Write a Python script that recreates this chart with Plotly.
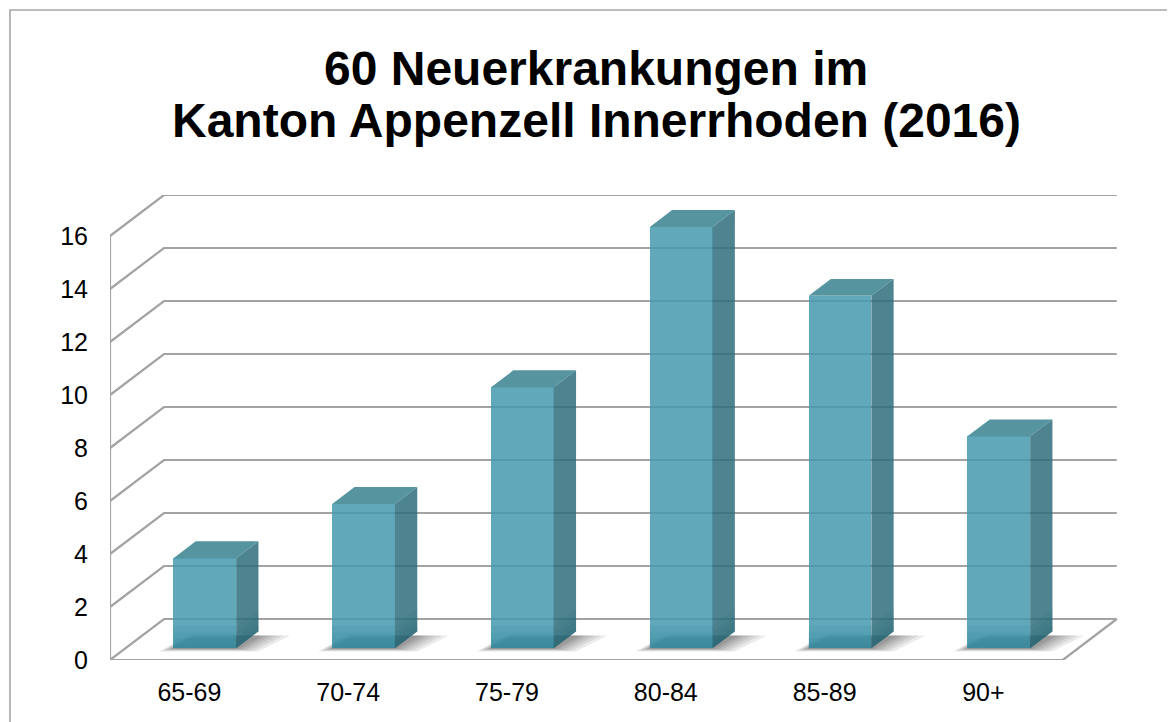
import plotly.graph_objects as go

# ---- data ----
categories = ["65-69", "70-74", "75-79", "80-84", "85-89", "90+"]
values = [3.4, 5.45, 9.85, 15.9, 13.3, 8.0]
y_ticks = [0, 2, 4, 6, 8, 10, 12, 14, 16]
title_line1 = "60 Neuerkrankungen im"
title_line2 = "Kanton Appenzell Innerrhoden (2016)"

# ---- 3D-look geometry (style constants) ----
DX, DY = 0.34, 1.547          # floor depth vector (x units, value units)
F0 = 0.285                    # depth fraction of bar front face
FD = 0.413                    # depth fraction of bar thickness
BW = 0.395                    # bar width in category units
X_MIN, X_MAX = -0.5, 5.5
Y_TOP = 16

FRONT = "rgba(68,153,174,0.85)"
SIDE = "rgba(47,111,125,0.85)"
TOP = "rgba(56,129,143,0.85)"
GRID = "#a3a3a3"

fig = go.Figure()
shapes = []

def line_shape(pts, color=GRID, width=2.2):
    path = "M " + " L ".join(f"{x},{y}" for x, y in pts)
    return dict(type="path", xref="x", yref="y", path=path,
                line=dict(color=color, width=width), layer="below")

# gridlines (left wall diagonal + back wall)
for v in y_ticks:
    shapes.append(line_shape([(X_MIN, v), (X_MIN + DX, v + DY), (X_MAX + DX, v + DY)]))
# floor front + right edges
shapes.append(line_shape([(X_MIN, 0), (X_MAX, 0), (X_MAX + DX, DY)]))
# left wall front edge
shapes.append(line_shape([(X_MIN, 0), (X_MIN, Y_TOP)]))

bx0 = F0 * DX
by0 = F0 * DY
bdx = FD * DX
bdy = FD * DY

# soft floor shadows (layered to imitate blur)
for i, v in enumerate(values):
    xl = i + bx0 - BW / 2
    xr = i + bx0 + BW / 2
    for k in [1.0, 0.8, 0.6, 0.42, 0.26, 0.12]:
        pts = [(xl - 0.09 * k, by0 - 0.12 * k), (xr + 0.14 * k, by0 - 0.12 * k),
               (xr + bdx + 0.2 * k, by0 + bdy * 0.75), (xl + bdx - 0.05 * k, by0 + bdy * 0.75)]
        path = "M " + " L ".join(f"{x},{y}" for x, y in pts) + " Z"
        shapes.append(dict(type="path", xref="x", yref="y", path=path,
                           fillcolor="rgba(0,0,0,0.08)", line=dict(width=0), layer="below"))

# front faces as bars
fig.add_trace(go.Bar(
    x=[i + bx0 for i in range(len(values))], y=values, base=by0, width=BW,
    marker=dict(color=FRONT, line=dict(width=0)), showlegend=False, hoverinfo="skip"))

for i, v in enumerate(values):
    xl = i + bx0 - BW / 2
    xr = i + bx0 + BW / 2
    yt = by0 + v
    # side face
    fig.add_trace(go.Scatter(
        x=[xr, xr + bdx, xr + bdx, xr, xr], y=[by0, by0 + bdy, yt + bdy, yt, by0],
        fill="toself", fillcolor=SIDE, mode="lines", line=dict(width=0),
        showlegend=False, hoverinfo="skip"))
    # top face
    fig.add_trace(go.Scatter(
        x=[xl, xl + bdx, xr + bdx, xr, xl], y=[yt, yt + bdy, yt + bdy, yt, yt],
        fill="toself", fillcolor=TOP, mode="lines", line=dict(width=0),
        showlegend=False, hoverinfo="skip"))
    # soft darker base band on front and side faces
    for h in [0.85, 0.6, 0.38, 0.18]:
        fig.add_trace(go.Scatter(
            x=[xl, xr, xr, xl, xl], y=[by0, by0, by0 + h, by0 + h, by0],
            fill="toself", fillcolor="rgba(25,110,135,0.09)", mode="lines", line=dict(width=0),
            showlegend=False, hoverinfo="skip"))
        fig.add_trace(go.Scatter(
            x=[xr, xr + bdx, xr + bdx, xr, xr], y=[by0, by0 + bdy, by0 + bdy + h, by0 + h, by0],
            fill="toself", fillcolor="rgba(20,80,100,0.07)", mode="lines", line=dict(width=0),
            showlegend=False, hoverinfo="skip"))

# chart border (extends past right / bottom edge)
shapes.append(dict(type="rect", xref="paper", yref="paper",
                   x0=(10 - 110) / 1010, x1=1.2, y0=-0.3, y1=(660 - 10) / 465,
                   line=dict(color="#a6a6a6", width=1.6), layer="below"))

FONT = "Arial, 'Liberation Sans', Helvetica, sans-serif"
# page body has an 8px margin, so the figure is sized/offset to compensate
fig.update_layout(
    width=1167, height=714,
    margin=dict(l=102, r=55, t=187, b=62, pad=0),
    paper_bgcolor="white", plot_bgcolor="white",
    shapes=shapes,
    bargap=0,
    font=dict(family=FONT, color="black"),
    xaxis=dict(range=[X_MIN, X_MIN + 1010 / 158.8], tickvals=list(range(len(categories))),
               ticktext=categories, showgrid=False, zeroline=False, showline=False,
               ticks="", ticklabelstandoff=15, tickfont=dict(size=25, family=FONT)),
    yaxis=dict(range=[0, 465 / 26.5], tickvals=y_ticks, showgrid=False, zeroline=False,
               showline=False, ticks="", ticklabelstandoff=21,
               tickfont=dict(size=25, family=FONT)),
    annotations=[
        dict(text=f"<b>{title_line1}</b>", xref="paper", yref="paper",
             x=(596 - 110) / 1010, y=(660 - 69) / 465, xanchor="center", yanchor="middle",
             showarrow=False, font=dict(size=48, family=FONT, color="black")),
        dict(text=f"<b>{title_line2}</b>", xref="paper", yref="paper",
             x=(596 - 110) / 1010, y=(660 - 121) / 465, xanchor="center", yanchor="middle",
             showarrow=False, font=dict(size=48, family=FONT, color="black")),
    ],
)

fig.write_html("out.html")
